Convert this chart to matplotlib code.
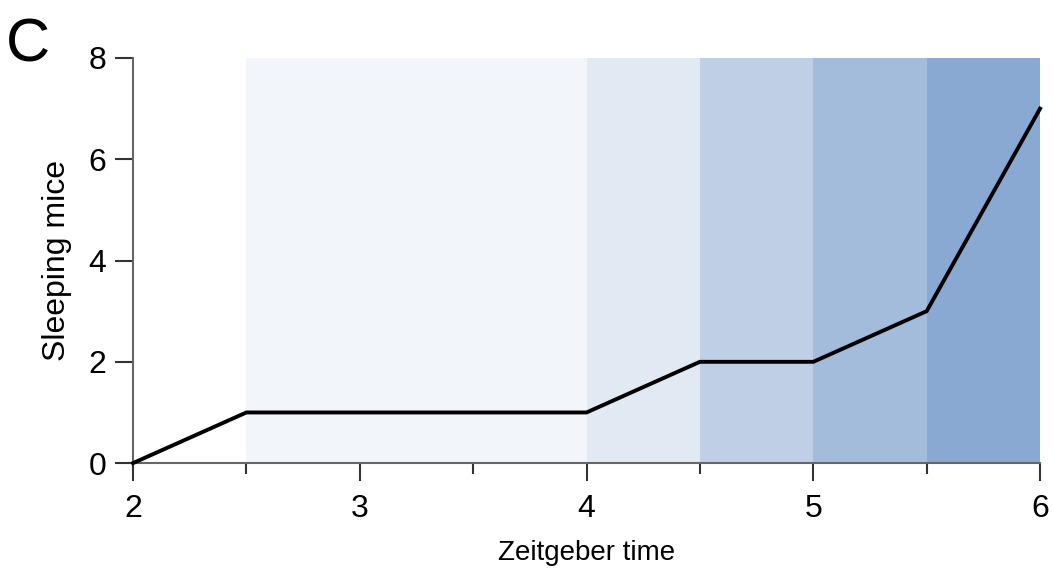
import matplotlib.pyplot as plt
import numpy as np

plt.rcParams['font.family'] = ['Liberation Sans', 'DejaVu Sans']

# line data
zt = [2, 2.5, 4, 4.5, 5, 5.5, 6]
sleeping = [0, 1, 1, 2, 2, 3, 7]

# shaded bands
band_start = [2.5, 4, 4.5, 5, 5.5]
band_end = [4, 4.5, 5, 5.5, 6]
band_colors = ['#f2f6fb', '#e1e9f3', '#bfd0e6', '#a4bcdc', '#89a9d2']

fig = plt.figure(figsize=(10.53, 5.74), dpi=100)
ax = fig.add_axes([0.1263, 0.1932, 0.8614, 0.7058])

for s, e, c in zip(band_start, band_end, band_colors):
    ax.axvspan(s, e, color=c, lw=0, zorder=0)

ax.plot(zt, sleeping, color='black', lw=2.8, zorder=3, solid_joinstyle='miter',
        clip_on=False)

ax.set_xlim(2, 6)
ax.set_ylim(0, 8)
ax.set_xticks([2, 3, 4, 5, 6])
ax.set_xticks([2.5, 3.5, 4.5, 5.5], minor=True)
ax.set_yticks([0, 2, 4, 6, 8])

for side in ['top', 'right']:
    ax.spines[side].set_visible(False)
for side in ['left', 'bottom']:
    ax.spines[side].set_color('#666666')
    ax.spines[side].set_linewidth(1.5)

ax.tick_params(axis='both', which='major', length=13, width=1.5, color='#333333',
               labelsize=23)
ax.tick_params(axis='x', which='major', pad=9)
ax.tick_params(axis='y', which='major', pad=6)
ax.tick_params(axis='x', which='minor', length=8, width=1.5, color='#333333')

ax.set_xlabel('Zeitgeber time', fontsize=20, labelpad=12)
ax.set_ylabel('Sleeping mice', fontsize=23, labelpad=12)

fig.text(0.006, 0.893, 'C', fontsize=44, ha='left', va='baseline')

fig.savefig('out.png', dpi=100)
